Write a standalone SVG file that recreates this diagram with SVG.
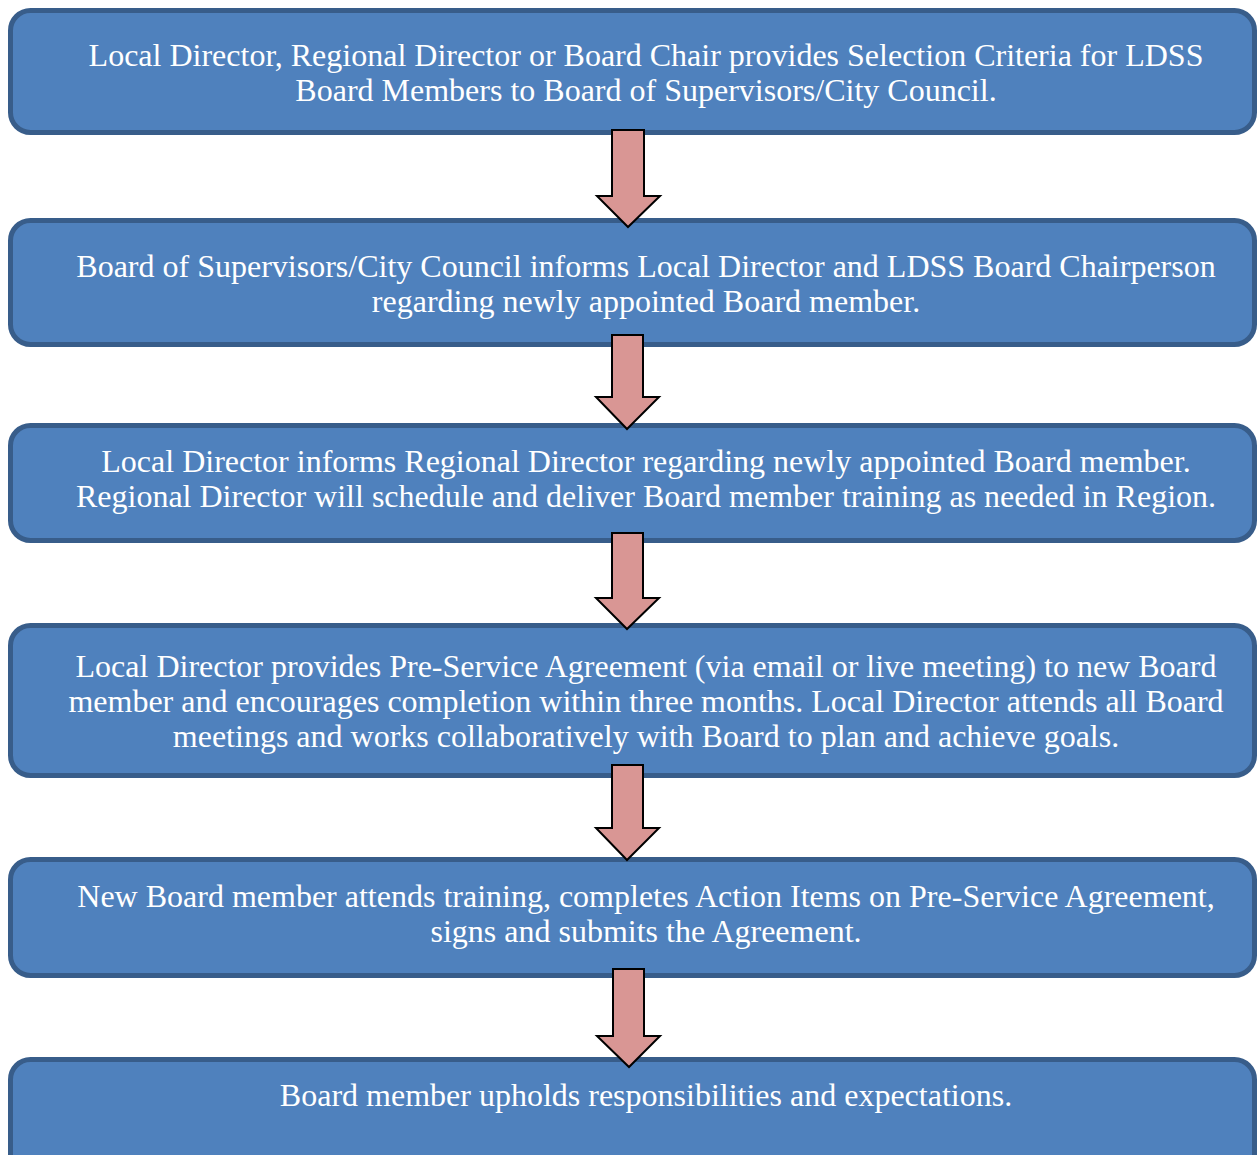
<svg xmlns="http://www.w3.org/2000/svg" width="1259" height="1155" viewBox="0 0 1259 1155">
<style>
.box{fill:#4f81bd;stroke:#385d8a;stroke-width:5}
.t{font-family:'Liberation Serif','Times New Roman',serif;font-size:32px;fill:#ffffff;text-anchor:middle}
.arr{fill:#d99694;stroke:#000000;stroke-width:2;stroke-linejoin:miter}
</style>
<rect width="1259" height="1155" fill="#ffffff"/>
<g id="node1">
<rect class="box" x="10.5" y="10.5" width="1244" height="122" rx="20"/>
<text class="t" x="646" y="66">Local Director, Regional Director or Board Chair provides Selection Criteria for LDSS</text>
<text class="t" x="646" y="101">Board Members to Board of Supervisors/City Council.</text>
</g>
<g id="node2">
<rect class="box" x="10.5" y="220.5" width="1244" height="124" rx="20"/>
<text class="t" x="646" y="277">Board of Supervisors/City Council informs Local Director and LDSS Board Chairperson</text>
<text class="t" x="646" y="312">regarding newly appointed Board member.</text>
</g>
<g id="node3">
<rect class="box" x="10.5" y="425.5" width="1244" height="115" rx="20"/>
<text class="t" x="646" y="472">Local Director informs Regional Director regarding newly appointed Board member.</text>
<text class="t" x="646" y="507">Regional Director will schedule and deliver Board member training as needed in Region.</text>
</g>
<g id="node4">
<rect class="box" x="10.5" y="625.5" width="1244" height="150" rx="20"/>
<text class="t" x="646" y="677">Local Director provides Pre-Service Agreement (via email or live meeting) to new Board</text>
<text class="t" x="646" y="712">member and encourages completion within three months. Local Director attends all Board</text>
<text class="t" x="646" y="747">meetings and works collaboratively with Board to plan and achieve goals.</text>
</g>
<g id="node5">
<rect class="box" x="10.5" y="859.5" width="1244" height="116" rx="20"/>
<text class="t" x="646" y="907">New Board member attends training, completes Action Items on Pre-Service Agreement,</text>
<text class="t" x="646" y="942">signs and submits the Agreement.</text>
</g>
<g id="node6">
<rect class="box" x="10.5" y="1059.5" width="1244" height="125" rx="20"/>
<text class="t" x="646" y="1106">Board member upholds responsibilities and expectations.</text>
</g>
<g id="connectors">
<path class="arr" d="M612,130 H644 V196 H660 L628,227 L597,196 H612 Z"/>
<path class="arr" d="M612,335 H643 V397 H659 L627,429 L596,397 H612 Z"/>
<path class="arr" d="M612,533 H643 V598 H659 L627,629 L596,598 H612 Z"/>
<path class="arr" d="M612,765 H643 V828 H659 L627,860 L596,828 H612 Z"/>
<path class="arr" d="M613,969 H644 V1036 H660 L629,1067 L597,1036 H613 Z"/>
</g>
</svg>
